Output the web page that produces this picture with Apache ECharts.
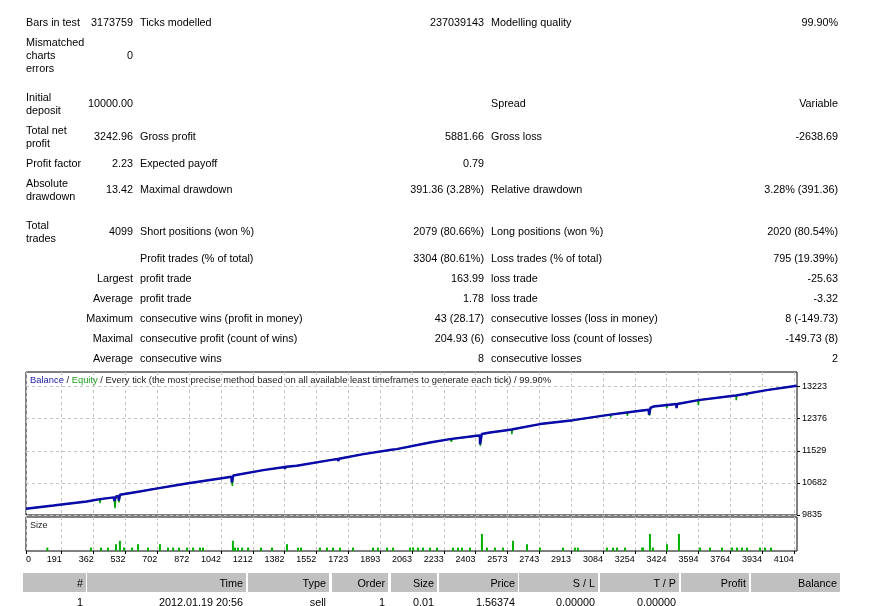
<!DOCTYPE html>
<html>
<head>
<meta charset="utf-8">
<script src="https://cdn.jsdelivr.net/npm/echarts@6/dist/echarts.min.js"></script>
<style>
html,body{margin:0;padding:0;background:#fff;overflow:hidden;}
#wrap{position:relative;width:889px;height:606px;overflow:hidden;}
#chart{position:absolute;left:0;top:0;width:889px;height:606px;}
.t{position:absolute;white-space:nowrap;font-family:"Liberation Sans",Arial,sans-serif;font-size:10.8px;line-height:14px;color:#000;}
.h{position:absolute;background:#c0c0c0;}
</style>
</head>
<body>
<div id="wrap"><div id="chart"></div></div>
<script>
// ---------- data ----------
const xTicks = [0,191,362,532,702,872,1042,1212,1382,1552,1723,1893,2063,2233,2403,2573,2743,2913,3084,3254,3424,3594,3764,3934,4104];
const yTicks = [9835,10682,11529,12376,13223];

const balance = [
[0,10000],[146,10085],[324,10191],[396,10254],[470,10300],[472,10209],[478,10212],[480,10322],
[494,10330],[496,10215],[500,10218],[502,10367],[600,10450],[680,10518],[859,10665],[1037,10797],
[1098,10845],[1100,10692],[1106,10695],[1108,10877],[1268,11019],[1383,11103],[1384,11050],[1387,11052],
[1388,11108],[1447,11132],[1625,11283],[1668,11312],[1669,11255],[1672,11257],[1673,11320],[1803,11441],
[1962,11562],[1963,11525],[1966,11527],[1967,11566],[1981,11573],[2159,11747],[2266,11837],[2409,11924],
[2426,11932],[2427,11700],[2435,11702],[2436,11975],[2480,12011],[2569,12074],[2595,12090],[2596,12040],
[2599,12042],[2600,12095],[2747,12233],[2925,12338],[3104,12470],[3282,12584],[3329,12612],[3330,12478],
[3337,12480],[3338,12665],[3353,12697],[3476,12761],[3477,12655],[3480,12657],[3481,12766],[3594,12866],
[3781,12979],[3795,12986],[3796,12940],[3799,12942],[3800,12995],[3959,13130],[4120,13243]
];

const equity = [
[0,10000],[146,10085],[324,10191],[394,10252],[396,10150],[399,10256],[470,10300],[476,10016],
[480,10322],[494,10330],[497,10164],[502,10367],[600,10450],[680,10518],[859,10665],[1037,10797],
[1098,10845],[1103,10605],[1108,10877],[1268,11019],[1338,11070],[1340,11020],[1343,11075],[1447,11132],
[1625,11283],[1803,11441],[1981,11573],[2159,11747],[2266,11837],[2274,11842],[2275,11774],[2278,11845],
[2409,11924],[2426,11932],[2428,11660],[2436,11975],[2480,12011],[2569,12074],[2595,12090],[2597,11969],
[2600,12095],[2747,12233],[2925,12338],[3104,12470],[3124,12483],[3125,12407],[3128,12486],[3213,12540],
[3214,12452],[3217,12542],[3282,12584],[3329,12612],[3333,12455],[3338,12665],[3353,12697],[3423,12734],
[3425,12655],[3428,12736],[3476,12761],[3592,12865],[3594,12734],[3597,12868],[3781,12979],[3795,12986],
[3796,12866],[3800,12995],[3850,13037],[3852,12979],[3855,13041],[3959,13130],[4120,13243]
];

const sizes = [
[114,0.01],[347,0.01],[401,0.01],[438,0.01],[481,0.02],[502,0.03],[524,0.01],[567,0.01],[599,0.02],
[652,0.01],[716,0.02],[759,0.01],[786,0.01],[818,0.01],[861,0.01],[893,0.01],[930,0.01],[946,0.01],
[1106,0.03],[1117,0.01],[1133,0.01],[1155,0.01],[1187,0.01],[1256,0.01],[1315,0.01],[1395,0.02],
[1454,0.01],[1470,0.01],[1571,0.01],[1609,0.01],[1641,0.01],[1678,0.01],[1748,0.01],[1855,0.01],
[1881,0.01],[1930,0.01],[1962,0.01],[2052,0.01],[2069,0.01],[2095,0.01],[2122,0.01],[2159,0.01],
[2197,0.01],[2282,0.01],[2309,0.01],[2330,0.01],[2373,0.01],[2437,0.05],[2464,0.01],[2507,0.01],
[2550,0.01],[2603,0.03],[2678,0.02],[2747,0.01],[2870,0.01],[2934,0.01],[2950,0.01],[3105,0.01],
[3138,0.01],[3159,0.01],[3202,0.01],[3293,0.01],[3298,0.01],[3335,0.05],[3351,0.01],[3426,0.02],
[3490,0.05],[3603,0.01],[3656,0.01],[3720,0.01],[3774,0.01],[3800,0.01],[3827,0.01],[3854,0.01],
[3923,0.01],[3950,0.01],[3982,0.01]
];

const headers = ['#','Time','Type','Order','Size','Price','S / L','T / P','Profit','Balance'];
const firstRow = ['1','2012.01.19 20:56','sell','1','0.01','1.56374','0.00000','0.00000','',''];

// ---------- report text ----------
const wrap = document.getElementById('wrap');
function put(x, y, text, align) {
  const d = document.createElement('div');
  d.className = 't';
  d.textContent = text;
  d.style.top = (y - 7) + 'px';
  if (align === 'r') d.style.right = (889 - x) + 'px'; else d.style.left = x + 'px';
  wrap.appendChild(d);
}
const A = 26, B = 133, C = 140, D = 484, E = 491, F = 838;
put(A,22,'Bars in test'); put(B,22,'3173759','r'); put(C,22,'Ticks modelled'); put(D,22,'237039143','r'); put(E,22,'Modelling quality'); put(F,22,'99.90%','r');
put(A,42,'Mismatched'); put(A,55,'charts'); put(A,68,'errors'); put(B,55,'0','r');
put(A,97,'Initial'); put(A,110,'deposit'); put(B,103,'10000.00','r'); put(E,103,'Spread'); put(F,103,'Variable','r');
put(A,130,'Total net'); put(A,143,'profit'); put(B,136,'3242.96','r'); put(C,136,'Gross profit'); put(D,136,'5881.66','r'); put(E,136,'Gross loss'); put(F,136,'-2638.69','r');
put(A,163,'Profit factor'); put(B,163,'2.23','r'); put(C,163,'Expected payoff'); put(D,163,'0.79','r');
put(A,183,'Absolute'); put(A,196,'drawdown'); put(B,189,'13.42','r'); put(C,189,'Maximal drawdown'); put(D,189,'391.36 (3.28%)','r'); put(E,189,'Relative drawdown'); put(F,189,'3.28% (391.36)','r');
put(A,225,'Total'); put(A,238,'trades'); put(B,231,'4099','r'); put(C,231,'Short positions (won %)'); put(D,231,'2079 (80.66%)','r'); put(E,231,'Long positions (won %)'); put(F,231,'2020 (80.54%)','r');
put(C,258,'Profit trades (% of total)'); put(D,258,'3304 (80.61%)','r'); put(E,258,'Loss trades (% of total)'); put(F,258,'795 (19.39%)','r');
put(B,278,'Largest','r'); put(C,278,'profit trade'); put(D,278,'163.99','r'); put(E,278,'loss trade'); put(F,278,'-25.63','r');
put(B,298,'Average','r'); put(C,298,'profit trade'); put(D,298,'1.78','r'); put(E,298,'loss trade'); put(F,298,'-3.32','r');
put(B,318,'Maximum','r'); put(C,318,'consecutive wins (profit in money)'); put(D,318,'43 (28.17)','r'); put(E,318,'consecutive losses (loss in money)'); put(F,318,'8 (-149.73)','r');
put(B,338,'Maximal','r'); put(C,338,'consecutive profit (count of wins)'); put(D,338,'204.93 (6)','r'); put(E,338,'consecutive loss (count of losses)'); put(F,338,'-149.73 (8)','r');
put(B,358,'Average','r'); put(C,358,'consecutive wins'); put(D,358,'8','r'); put(E,358,'consecutive losses'); put(F,358,'2','r');

// trades table header
const cells = [[23,86],[87,246],[248,329],[332,388],[391,437],[439,518],[519,598],[600,679],[681,749],[751,840]];
cells.forEach((c, i) => {
  const h = document.createElement('div');
  h.className = 'h';
  h.style.left = c[0] + 'px'; h.style.width = (c[1] - c[0]) + 'px';
  h.style.top = '573px'; h.style.height = '19px';
  wrap.appendChild(h);
  put(c[1] - 3, 582.5, headers[i], 'r');
  if (firstRow[i]) put(c[1] - 3, 602, firstRow[i], 'r');
});

// ---------- chart ----------
const FONT = '"Liberation Sans", Arial, sans-serif';
const grid = { color: '#c4c4c4', type: [3, 3], width: 1 };
const chart = echarts.init(document.getElementById('chart'), null, { renderer: 'canvas' });
chart.setOption({
  animation: false,
  backgroundColor: 'transparent',
  title: [
    { text: '{b|Balance} / {e|Equity} / Every tick (the most precise method based on all available least timeframes to generate each tick) / 99.90%',
      left: 30, top: 375, padding: 0,
      textStyle: { fontSize: 9.4, fontWeight: 'normal', color: '#222', fontFamily: FONT, lineHeight: 11,
        rich: { b: { color: '#1c1ca8', fontSize: 9.4, fontFamily: FONT, lineHeight: 11 },
                e: { color: '#1ea01e', fontSize: 9.4, fontFamily: FONT, lineHeight: 11 } } } },
    { text: 'Size', left: 30, top: 520, padding: 0,
      textStyle: { fontSize: 9, fontWeight: 'normal', color: '#222', fontFamily: FONT, lineHeight: 11 } }
  ],
  grid: [
    { left: 26, top: 372, width: 771, height: 143, show: true, borderColor: '#000', borderWidth: 1, containLabel: false },
    { left: 26, top: 517, width: 771, height: 34, show: true, borderColor: '#000', borderWidth: 1, containLabel: false }
  ],
  xAxis: [
    { gridIndex: 0, type: 'value', min: 0, max: 4121,
      axisLine: { show: false, onZero: false }, axisTick: { show: false, customValues: xTicks },
      axisLabel: { show: false }, splitLine: { show: true, lineStyle: grid } },
    { gridIndex: 1, type: 'value', min: 0, max: 4121, position: 'bottom',
      axisLine: { show: false, onZero: false },
      axisTick: { show: true, length: 3, customValues: xTicks, lineStyle: { color: '#000' } },
      axisLabel: { show: true, customValues: xTicks, align: 'right', alignMinLabel: 'left', margin: 4,
                   fontSize: 9, color: '#000', fontFamily: FONT, formatter: v => String(v) },
      splitLine: { show: true, lineStyle: grid } }
  ],
  yAxis: [
    { gridIndex: 0, type: 'value', min: 9835, max: 13608, position: 'right',
      axisLine: { show: false, onZero: false },
      axisTick: { show: true, length: 3, customValues: yTicks, lineStyle: { color: '#000' } },
      axisLabel: { show: true, customValues: yTicks, margin: 5, fontSize: 9, color: '#000', fontFamily: FONT,
                   showMinLabel: true, showMaxLabel: true, formatter: v => String(v) },
      splitLine: { show: true, lineStyle: grid } },
    { gridIndex: 1, type: 'value', min: 0, max: 0.1,
      axisLine: { show: false, onZero: false }, axisTick: { show: false }, axisLabel: { show: false }, splitLine: { show: false } }
  ],
  series: [
    { name: 'Equity', type: 'line', xAxisIndex: 0, yAxisIndex: 0, data: equity, showSymbol: false, z: 2,
      lineStyle: { color: '#00a000', width: 1.5 }, itemStyle: { color: '#00a000' } },
    { name: 'Balance', type: 'line', xAxisIndex: 0, yAxisIndex: 0, data: balance, showSymbol: false, z: 3,
      lineStyle: { color: '#0a0aaa', width: 2.5 }, itemStyle: { color: '#0a0aaa' } },
    { name: 'Size', type: 'bar', xAxisIndex: 1, yAxisIndex: 1, data: sizes, barWidth: 2,
      itemStyle: { color: '#00b000' } }
  ]
});
</script>
</body>
</html>
